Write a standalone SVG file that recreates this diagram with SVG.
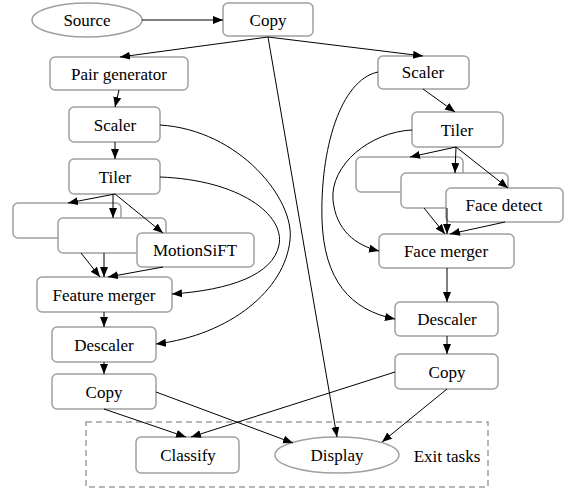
<svg xmlns="http://www.w3.org/2000/svg" width="569" height="494" viewBox="0 0 569 494">
<style>
.n{fill:#fff;stroke:#a0a0a0;stroke-width:1.5}
.t{font-family:'Liberation Serif','Times New Roman',Times,'DejaVu Serif',serif;font-size:17px;fill:#000;text-anchor:middle}
.e{fill:none;stroke:#000;stroke-width:1}
.cl{fill:none;stroke:#a0a0a0;stroke-width:1.5;stroke-dasharray:6,4}
</style>
<defs>
<marker id="a" markerUnits="userSpaceOnUse" markerWidth="11" markerHeight="9" refX="10" refY="4" orient="auto"><path d="M0,0 L10,4 L0,8 z" fill="#000"/></marker>
</defs>
<g id="cluster-exit"><rect class="cl" x="86" y="422" width="402" height="65"/><text class="t" x="447" y="461.5">Exit tasks</text></g>
<g id="source"><ellipse class="n" cx="87" cy="20" rx="55" ry="17"/><text class="t" x="87" y="25.5">Source</text></g>
<g id="copy-top"><rect class="n" x="223" y="3" width="90" height="33" rx="5"/><text class="t" x="268" y="25.5">Copy</text></g>
<g id="pair-generator"><rect class="n" x="50" y="57" width="138" height="33" rx="5"/><text class="t" x="119" y="79.5">Pair generator</text></g>
<g id="scaler-l"><rect class="n" x="69" y="107" width="91" height="35" rx="5"/><text class="t" x="115" y="130.5">Scaler</text></g>
<g id="tiler-l"><rect class="n" x="69" y="159" width="91" height="35" rx="5"/><text class="t" x="115" y="182.5">Tiler</text></g>
<g id="tile-l1"><rect class="n" x="13" y="203" width="108" height="35" rx="5"/></g>
<g id="tile-l2"><rect class="n" x="58" y="218" width="108" height="35" rx="5"/></g>
<g id="motionsift"><rect class="n" x="137" y="233" width="117" height="34" rx="5"/><text class="t" x="195" y="255.5">MotionSiFT</text></g>
<g id="feature-merger"><rect class="n" x="37" y="277" width="135" height="35" rx="5"/><text class="t" x="104" y="300.5">Feature merger</text></g>
<g id="descaler-l"><rect class="n" x="52" y="327" width="104" height="35" rx="5"/><text class="t" x="104" y="350.5">Descaler</text></g>
<g id="copy-l"><rect class="n" x="52" y="374" width="104" height="35" rx="5"/><text class="t" x="104" y="397.5">Copy</text></g>
<g id="classify"><rect class="n" x="136" y="437" width="103" height="36" rx="5"/><text class="t" x="188" y="460.5">Classify</text></g>
<g id="display"><ellipse class="n" cx="337" cy="455" rx="62" ry="18"/><text class="t" x="337" y="460.5">Display</text></g>
<g id="scaler-r"><rect class="n" x="378" y="56" width="91" height="33" rx="5"/><text class="t" x="423" y="77.5">Scaler</text></g>
<g id="tiler-r"><rect class="n" x="412" y="112" width="91" height="35" rx="5"/><text class="t" x="457" y="135.5">Tiler</text></g>
<g id="tile-r1"><rect class="n" x="356" y="157" width="107" height="35" rx="5"/></g>
<g id="tile-r2"><rect class="n" x="401" y="173" width="107" height="35" rx="5"/></g>
<g id="face-detect"><rect class="n" x="446" y="188" width="117" height="34" rx="5"/><text class="t" x="504" y="210.5">Face detect</text></g>
<g id="face-merger"><rect class="n" x="379" y="234" width="135" height="34" rx="5"/><text class="t" x="446" y="256.5">Face merger</text></g>
<g id="descaler-r"><rect class="n" x="395" y="302" width="103" height="34" rx="5"/><text class="t" x="447" y="324.5">Descaler</text></g>
<g id="copy-r"><rect class="n" x="395" y="354" width="103" height="35" rx="5"/><text class="t" x="447" y="377.5">Copy</text></g>
<g id="connectors" class="e" marker-end="url(#a)">
<path class="e" marker-end="url(#a)" d="M142,20 L223,20"/>
<path class="e" marker-end="url(#a)" d="M268,37 L120,57"/>
<path class="e" marker-end="url(#a)" d="M268,37 L423,56"/>
<path class="e" marker-end="url(#a)" d="M268,37 L337,437"/>
<path class="e" marker-end="url(#a)" d="M119,90 L115,107"/>
<path class="e" marker-end="url(#a)" d="M115,142 L115,159"/>
<path class="e" marker-end="url(#a)" d="M115,194 L68,203"/>
<path class="e" marker-end="url(#a)" d="M113,194 L113,218"/>
<path class="e" marker-end="url(#a)" d="M115,194 L163,233"/>
<path class="e" marker-end="url(#a)" d="M81,253 L100,277"/>
<path class="e" marker-end="url(#a)" d="M104,253 L104,277"/>
<path class="e" marker-end="url(#a)" d="M163,267 L108,277"/>
<path class="e" marker-end="url(#a)" d="M104,312 L104,327"/>
<path class="e" marker-end="url(#a)" d="M104,362 L104,374"/>
<path class="e" marker-end="url(#a)" d="M104,409 L186,437"/>
<path class="e" marker-end="url(#a)" d="M156,392 L293,443"/>
<path class="e" marker-end="url(#a)" d="M395,372 L191,437"/>
<path class="e" marker-end="url(#a)" d="M447,389 L382,442"/>
<path class="e" marker-end="url(#a)" d="M160,125 C240,130 295,200 290,240 C285,290 230,335 156,344"/>
<path class="e" marker-end="url(#a)" d="M160,177 C240,180 285,215 279,245 C273,275 230,290 172,294"/>
<path class="e" marker-end="url(#a)" d="M378,72 C340,80 320,150 322,220 C324,280 350,310 395,319"/>
<path class="e" marker-end="url(#a)" d="M412,130 C370,132 330,165 333,200 C336,230 355,245 379,251"/>
<path class="e" marker-end="url(#a)" d="M423,89 L455,112"/>
<path class="e" marker-end="url(#a)" d="M456,147 L410,157"/>
<path class="e" marker-end="url(#a)" d="M456,147 L455,173"/>
<path class="e" marker-end="url(#a)" d="M456,147 L508,188"/>
<path class="e" marker-end="url(#a)" d="M424,208 L445,234"/>
<path class="e" marker-end="url(#a)" d="M447,208 L447,234"/>
<path class="e" marker-end="url(#a)" d="M505,222 L450,234"/>
<path class="e" marker-end="url(#a)" d="M447,268 L447,302"/>
<path class="e" marker-end="url(#a)" d="M447,336 L447,354"/>
</g>
</svg>
